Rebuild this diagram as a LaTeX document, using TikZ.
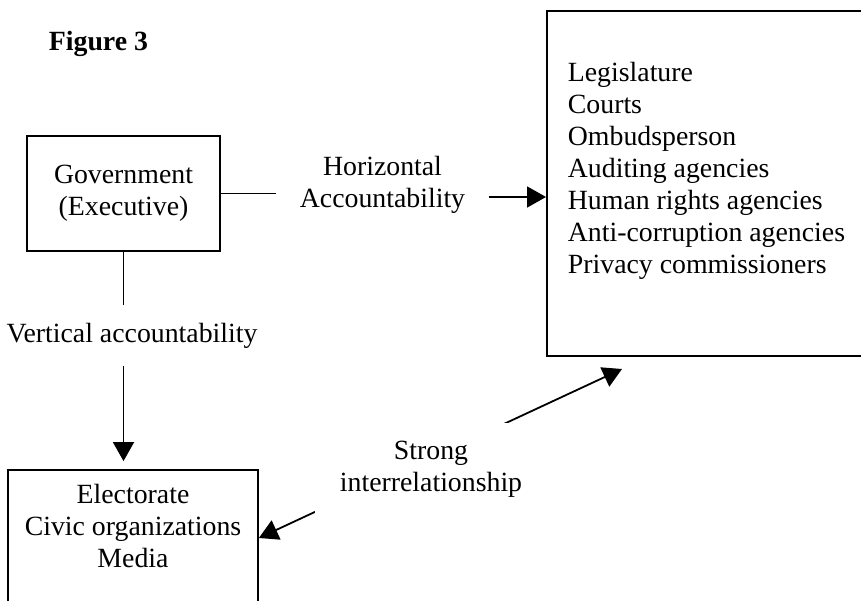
\documentclass[tikz,border=0pt]{standalone}
\usepackage{fontspec}
\setmainfont{Liberation Serif}
\usetikzlibrary{arrows.meta,positioning}

\begin{document}
\begin{tikzpicture}[x=1pt,y=1pt,line width=1.8pt,
    font=\fontsize{27.8pt}{32pt}\selectfont,
    box/.style={draw,rectangle,inner sep=0pt},
    lbl/.style={fill=white,align=center,inner xsep=4pt,inner ysep=18pt},
    arr/.style={-{Triangle[length=19pt,width=21pt]}}]
    \useasboundingbox (0,0) rectangle (861,600);
    \clip (0,0) rectangle (861,600);
    \node[anchor=base west,inner sep=0pt,font=\fontsize{27.8pt}{32pt}\selectfont\bfseries] (fig) at (48,549) {Figure 3};
    \node[box,align=center,minimum width=193pt,minimum height=115pt] (gov) at (123.5,406.5) {Government\\(Executive)};
    \node[box,anchor=north west,minimum width=334pt,minimum height=345pt] (agencies) at (546,590) {};
    \node[align=left,inner sep=0pt,below right=51pt and 21pt of agencies.north west] (agencylist)
        {Legislature\\Courts\\Ombudsperson\\Auditing agencies\\Human rights agencies\\Anti-corruption agencies\\Privacy commissioners};
    \node[box,minimum width=250pt,minimum height=136pt] (elect) at (133,62) {};
    \node[align=center,inner sep=0pt,below=14pt of elect.north] (electlist) {Electorate\\Civic organizations\\Media};
    % horizontal
    \node[align=center,inner sep=0pt,minimum width=211pt] (hlabel) at (382.5,415.5) {Horizontal\\Accountability};
    \draw (gov.east) -- (gov.east -| hlabel.west);
    \draw[arr] ([yshift=-12.5pt]hlabel.east) -- ([yshift=-12.5pt]hlabel.east -| agencies.west);
    % vertical
    \draw[arr,shorten >=8pt] (gov.south) -- (gov.south |- elect.north);
    \node[lbl] (vlabel) at (132,264.5) {Vertical accountability};
    % strong interrelationship
    \coordinate (stip) at (622,231);
    \draw[{Triangle[length=19pt,width=21pt]}-{Triangle[length=19pt,width=21pt]}] (elect.east) -- (stip);
    \node[lbl,inner xsep=25pt] (slabel) at (431,130.5) {Strong\\interrelationship};
\end{tikzpicture}
\end{document}
